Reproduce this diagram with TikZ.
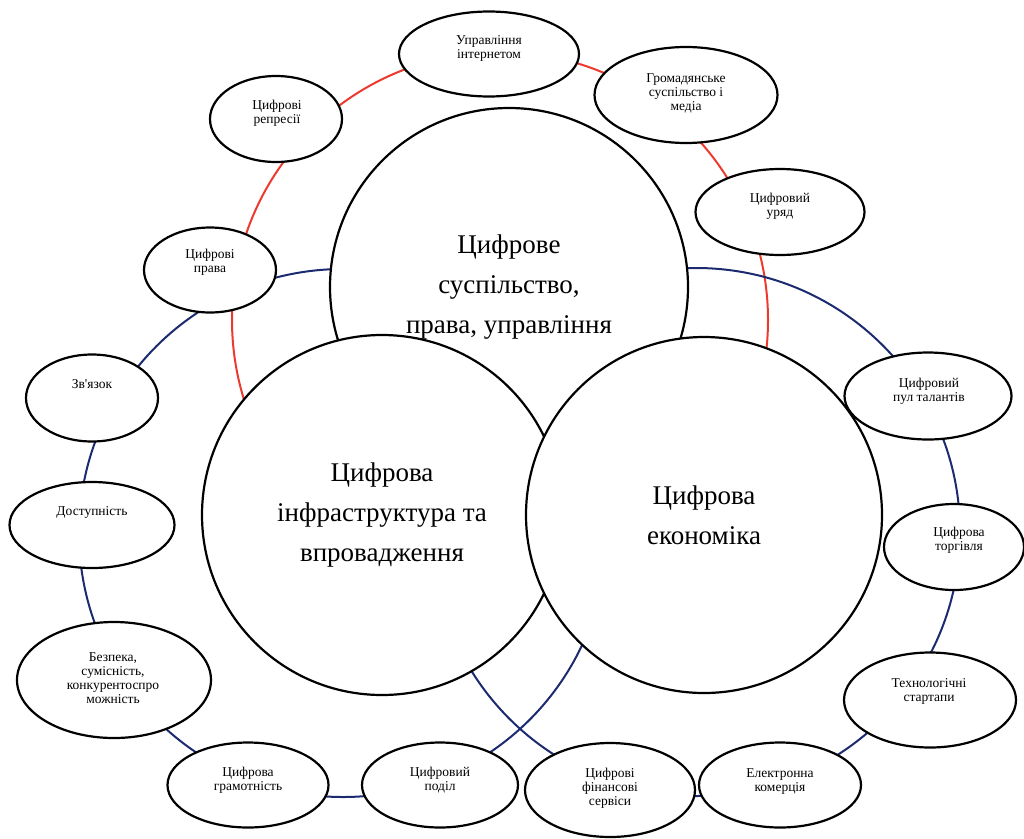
\documentclass[tikz,border=0pt]{standalone}
\usepackage{fontspec}
\setmainfont{Liberation Serif}[Ligatures=TeXOff]
\usetikzlibrary{shapes.geometric}
\definecolor{ringred}{RGB}{236,58,46}
\definecolor{ringblue}{RGB}{28,42,112}
\begin{document}
\begin{tikzpicture}[x=1pt,y=-1pt,
  ring/.style={line width=2pt},
  bigc/.style={circle, draw, line width=2.2pt, fill=white, inner sep=0pt, align=center,
    font=\fontsize{27}{40}\selectfont},
  ell/.style={ellipse, draw, line width=2.2pt, fill=white, inner sep=0pt},
  stxt/.style={align=center, anchor=north, inner sep=0pt, font=\fontsize{13.5}{14}\selectfont}
]
\useasboundingbox (0,0) rectangle (1024,838);

% rings behind everything
\coordinate (redc) at (500,320);
\coordinate (bluel) at (343,533);
\coordinate (bluer) at (696,532);
\draw[ringred, ring] (redc) circle[radius=268pt];
\draw[ringblue, ring] (bluel) circle[radius=264pt];
\draw[ringblue, ring] (bluer) circle[radius=264pt];

% big circles
\node[bigc, minimum size=358pt] (soc) at (509,287) {Цифрове\\суспільство,\\права, управління};
\node[bigc, minimum size=360pt] (inf) at (382,515) {Цифрова\\інфраструктура та\\впровадження};
\node[bigc, minimum size=356pt] (eco) at (704,515) {Цифрова\\економіка};

% small ellipses
\node[ell, minimum width=180pt, minimum height=85pt] (upr) at (489,54) {};
\node[stxt] (uprt) at (489,35) {Управління\\інтернетом};

\node[ell, minimum width=183pt, minimum height=96pt] (grom) at (686,95) {};
\node[stxt] (gromt) at (686,73) {Громадянське\\суспільство і\\медіа};

\node[ell, minimum width=169pt, minimum height=86pt] (uryad) at (780,212) {};
\node[stxt] (uryadt) at (780,193) {Цифровий\\уряд};

\node[ell, minimum width=132pt, minimum height=86pt] (repr) at (276,119) {};
\node[stxt] (reprt) at (277,100) {Цифрові\\репресії};

\node[ell, minimum width=132pt, minimum height=85pt] (prava) at (210,270) {};
\node[stxt] (pravat) at (210,249) {Цифрові\\права};

\node[ell, minimum width=132pt, minimum height=87pt] (zv) at (92,398) {};
\node[stxt] (zvt) at (92,379) {Зв'язок};

\node[ell, minimum width=165pt, minimum height=86pt] (dost) at (92,525) {};
\node[stxt] (dostt) at (92,506) {Доступність};

\node[ell, minimum width=194pt, minimum height=116pt] (bez) at (114,680) {};
\node[stxt] (bezt) at (113,652) {Безпека,\\сумісність,\\конкурентоспро\\можність};

\node[ell, minimum width=161pt, minimum height=85pt] (gram) at (248,785) {};
\node[stxt] (gramt) at (248,767) {Цифрова\\грамотність};

\node[ell, minimum width=156pt, minimum height=85pt] (podil) at (440,785) {};
\node[stxt] (podilt) at (440,767) {Цифровий\\поділ};

\node[ell, minimum width=170pt, minimum height=94pt] (fin) at (610,790) {};
\node[stxt] (fint) at (610,768) {Цифрові\\фінансові\\сервіси};

\node[ell, minimum width=162pt, minimum height=85pt] (kom) at (780,785) {};
\node[stxt] (komt) at (780,768) {Електронна\\комерція};

\node[ell, minimum width=172pt, minimum height=95pt] (start) at (930,700) {};
\node[stxt] (startt) at (929,678) {Технологічні\\стартапи};

\node[ell, minimum width=140pt, minimum height=86pt] (torg) at (954,547) {};
\node[stxt] (torgt) at (959,527) {Цифрова\\торгівля};

\node[ell, minimum width=167pt, minimum height=87pt] (pul) at (928,396) {};
\node[stxt] (pult) at (929,378) {Цифровий\\пул талантів};
\end{tikzpicture}
\end{document}
